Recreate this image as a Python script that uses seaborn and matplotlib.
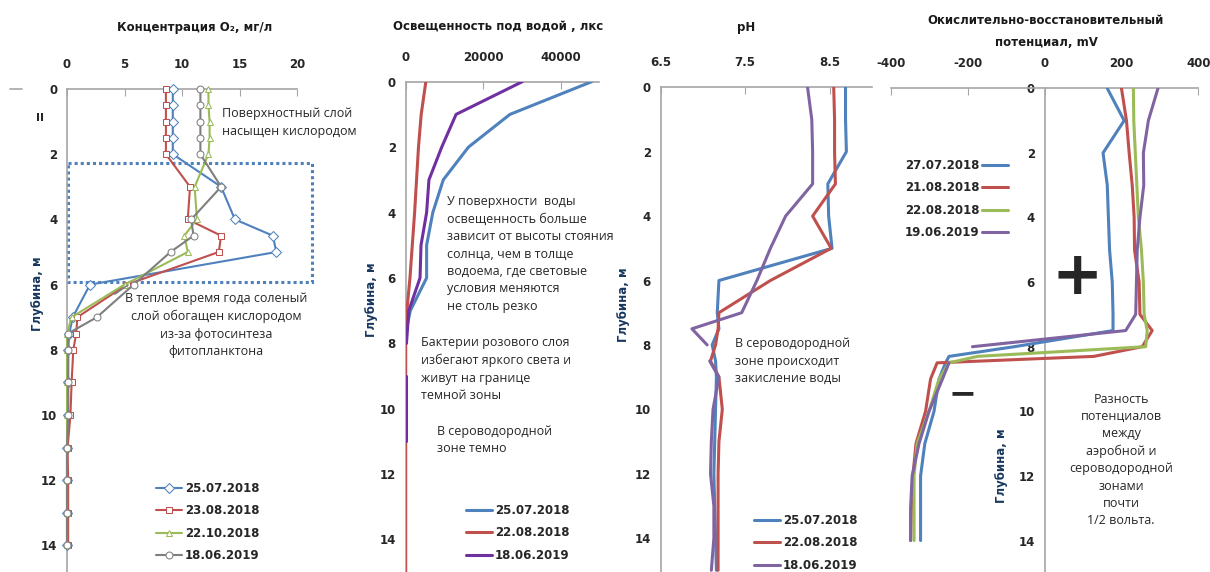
import numpy as np
import pandas as pd
import matplotlib
matplotlib.use('Agg')
import matplotlib.pyplot as plt
import matplotlib.patches as patches
from matplotlib.lines import Line2D
import seaborn as sns

# ---- Концентрация O2, мг/л ----
o2_depth = [0, 0.5, 1, 1.5, 2, 3, 4, 4.5, 5, 6, 7, 7.5, 8, 9, 10, 11, 12, 13, 14]
o2_250718 = [9.2, 9.2, 9.2, 9.2, 9.2, 13.4, 14.6, 17.9, 18.2, 2.0, 0.5, 0.2, 0.1, 0.1, 0.1, 0, 0, 0, 0]
o2_230818 = [8.6, 8.6, 8.6, 8.6, 8.6, 10.7, 10.5, 13.4, 13.2, 5.2, 0.9, 0.8, 0.55, 0.4, 0.3, 0.05, 0.1, 0.1, 0.1]
o2_221018 = [12.3, 12.3, 12.4, 12.4, 12.3, 11.1, 11.3, 10.2, 10.5, 5.0, 0.4, 0, 0, 0, 0, 0, 0, 0, 0]
o2_180619 = [11.6, 11.6, 11.6, 11.6, 11.6, 13.4, 10.8, 11.0, 9.0, 5.8, 2.6, 0.1, 0.1, 0.1, 0.1, 0, 0, 0, 0]

# ---- Освещенность, лкс ----
lux_depth = [0, 1, 2, 3, 4, 5, 6, 7, 7.5, 8]
lux_250718 = [48000, 26900, 16200, 9700, 7000, 5400, 5400, 1200, 300, 0]
lux_red_depth = [0, 1, 2, 3, 4, 5, 6, 7, 8, 9, 10, 11, 12, 13, 14, 15]
lux_220818 = [5200, 4000, 3300, 2800, 2300, 1700, 1100, 300, 0, 0, 0, 0, 0, 0, 0, 0]
lux_violet_depth = [0, 1, 2, 3, 4, 5, 6, 7, 8, 8.5, 9, 10, 11]
lux_180619 = [30100, 13000, 9300, 6000, 5400, 3950, 3700, 800, 200, np.nan, 200, 200, 200]

# ---- pH ----
ph_depth = [0, 1, 2, 3, 4, 5, 6, 7, 7.5, 8, 8.5, 9, 10, 11, 12, 13, 14, 15]
ph_250718 = [8.69, 8.69, 8.70, 8.48, 8.49, 8.53, 7.19, 7.17, 7.19, 7.11, 7.15, 7.16, 7.15, 7.14, 7.13, 7.14, 7.15, 7.16]
ph_220818 = [8.55, 8.56, 8.56, 8.57, 8.30, 8.52, 7.80, 7.19, 7.18, 7.15, 7.09, 7.19, 7.23, 7.19, 7.18, 7.18, 7.18, 7.18]
ph_violet_depth = [0, 1, 2, 3, 4, 5, 6, 7, 7.5, 8, 8.25, 8.5, 9, 10, 11, 12, 13, 14, 15]
ph_180619 = [8.24, 8.29, 8.30, 8.30, 7.98, 7.80, 7.64, 7.46, 6.87, 7.05, np.nan, 7.08, 7.19, 7.12, 7.10, 7.09, 7.13, 7.13, 7.10]

# ---- ОВП, mV ----
orp_depth = [0, 1, 2, 3, 4, 5, 6, 7, 7.5, 8, 8.3, 8.5, 9, 10, 11, 12, 13, 14]
orp_270718 = [163, 207, 152, 163, 166, 169, 176, 178, 178, -79, -249, -258, -275, -288, -312, -323, -323, -323]
orp_210818 = [200, 213, 220, 228, 233, 234, 246, 248, 280, 254, 128, -280, -297, -310, -335, -343, -347, -349]
orp_220818 = [231, 232, 236, 240, 244, 252, 257, 259, 267, 263, -175, -249, -275, -301, -332, -340, -340, -340]
orp_190619 = [295, 270, 257, 258, 248, 241, 239, 237, 211, -188, np.nan, -249, -266, -301, -327, -345, -349, -349]

BLUE, RED, GREEN, GRAY = '#4F81BD', '#C0504D', '#9BBB59', '#7F7F7F'
VIOLET_DARK, VIOLET = '#7030A0', '#8064A2'

sns.set_style('white')
plt.rcParams['font.family'] = ['DejaVu Sans']
plt.rcParams['axes.unicode_minus'] = False

W, H = 1210, 572
fig = plt.figure(figsize=(W / 100, H / 100), dpi=100)


def px(x, y):
    return x / W, 1 - y / H


def draw(ax, depth, vals, color, label, **kw):
    d = pd.DataFrame({'depth': depth, 'val': vals})
    seg = d['val'].isna().cumsum()
    first = True
    for _, part in d[d['val'].notna()].groupby(seg[d['val'].notna()]):
        sns.lineplot(data=part, x='val', y='depth', orient='y', sort=False,
                     estimator=None, color=color, legend=False, ax=ax,
                     label=label if first else '_nolegend_', **kw)
        first = False


def style_ax(ax, xlim, xticks, ymax, zero_spine=False):
    ax.set_xlim(*xlim)
    ax.set_ylim(ymax, 0)
    ax.set_xticks(xticks)
    ax.set_yticks(range(0, 15, 2))
    ax.set_xlabel('')
    ax.set_ylabel('')
    ax.xaxis.tick_top()
    for s in ['right', 'bottom']:
        ax.spines[s].set_visible(False)
    for s in ['top', 'left']:
        ax.spines[s].set_color('#A6A6A6')
        ax.spines[s].set_linewidth(1.2)
    if zero_spine:
        ax.spines['left'].set_position(('data', 0))
    ax.tick_params(axis='x', direction='in', length=5, pad=13, color='#A6A6A6',
                   labelsize=8.5)
    ax.tick_params(axis='y', direction='out', length=4, pad=3, color='#A6A6A6',
                   labelsize=8.5)
    for t in ax.get_xticklabels() + ax.get_yticklabels():
        t.set_fontweight('bold')
    ax.patch.set_alpha(0)


def ann(x, y, s, ha='left', ls=1.45, size=9):
    fig.text(*px(x, y), s, ha=ha, va='top', fontsize=size, linespacing=ls,
             color='#262626', family=['Open Sans', 'DejaVu Sans'])


def title(x, y, s):
    fig.text(*px(x, y), s, ha='center', va='center', fontsize=8.5,
             fontweight='bold', color='#1a1a1a')


def ylab(x, y):
    fig.text(*px(x, y), 'Глубина, м', rotation=90, ha='center', va='center',
             fontsize=8.5, fontweight='bold', color='#17375E')


leg_kw = dict(bbox_transform=fig.transFigure, frameon=False, borderpad=0,
              handlelength=2.2, handletextpad=0.25, labelspacing=0.8,
              prop={'weight': 'bold', 'size': 8.5})

# ---------- Панель 1: O2 ----------
ax1 = fig.add_axes([67 / W, 0, 230 / W, (H - 89) / H])
mk = dict(markerfacecolor='white', markersize=5, linewidth=1.5, clip_on=False, zorder=3)
draw(ax1, o2_depth, o2_250718, BLUE, '25.07.2018', marker='D', markeredgecolor=BLUE, **mk)
draw(ax1, o2_depth, o2_230818, RED, '23.08.2018', marker='s', markeredgecolor=RED, **mk)
draw(ax1, o2_depth, o2_221018, GREEN, '22.10.2018', marker='^', markeredgecolor=GREEN, **mk)
draw(ax1, o2_depth, o2_180619, GRAY, '18.06.2019', marker='o', markeredgecolor=GRAY, **mk)
style_ax(ax1, (0, 20), [0, 5, 10, 15, 20], (H - 89) / 32.6)
ax1.add_patch(patches.Rectangle((0.1, 2.27), 21.2, 3.65, fill=False, edgecolor=BLUE,
                                linewidth=2.2, linestyle=(0, (1, 1)), clip_on=False))
ax1.legend(loc='upper left', bbox_to_anchor=px(150, 476), **leg_kw)
title(195, 27, 'Концентрация O₂, мг/л')
ylab(37, 294)
ann(222, 107, 'Поверхностный слой\nнасыщен кислородом', ls=1.5)
ann(216, 292, 'В теплое время года соленый\nслой обогащен кислородом\nиз-за фотосинтеза\nфитопланктона',
    ha='center', ls=1.45)
fig.add_artist(Line2D([115 / W, 128 / W], [1 - 294 / H, 1 - 285 / H], color=GRAY, lw=1.2))
fig.add_artist(Line2D([10 / W, 22 / W], [1 - 89 / H, 1 - 89 / H], color='#A6A6A6', lw=1.2))
fig.text(*px(40, 118), 'II', ha='center', va='center', fontsize=8, fontweight='bold')

# ---------- Панель 2: освещенность ----------
ax2 = fig.add_axes([405.7 / W, 0, 193.7 / W, (H - 81.7) / H])
lk = dict(linewidth=2.2, zorder=3)
draw(ax2, lux_depth, lux_250718, BLUE, '25.07.2018', **lk)
draw(ax2, lux_red_depth, lux_220818, RED, '22.08.2018', **lk)
draw(ax2, lux_violet_depth, lux_180619, VIOLET_DARK, '18.06.2019', **lk)
style_ax(ax2, (0, 50000), [0, 20000, 40000], (H - 81.7) / 32.7)
ax2.legend(loc='upper left', bbox_to_anchor=px(460, 498), **leg_kw)
title(498, 27, 'Освещенность под водой , лкс')
ylab(371, 300)
ann(447, 195, 'У поверхности  воды\nосвещенность больше\nзависит от высоты стояния\nсолнца, чем в толще\n'
    'водоема, где световые\nусловия меняются\nне столь резко')
ann(421, 336, 'Бактерии розового слоя\nизбегают яркого света и\nживут на границе\nтемной зоны')
ann(437, 425, 'В сероводородной\nзоне темно')

# ---------- Панель 3: pH ----------
ax3 = fig.add_axes([660.7 / W, 0, 211 / W, (H - 87.3) / H])
draw(ax3, ph_depth, ph_250718, BLUE, '25.07.2018', **lk)
draw(ax3, ph_depth, ph_220818, RED, '22.08.2018', **lk)
draw(ax3, ph_violet_depth, ph_180619, VIOLET, '18.06.2019', **lk)
style_ax(ax3, (6.5, 9.0), [6.5, 7.5, 8.5], (H - 87.3) / 32.2)
ax3.legend(loc='upper left', bbox_to_anchor=px(748, 508), **leg_kw)
title(746, 27, 'pH')
ylab(623, 305)
ann(735, 337, 'В сероводородной\nзоне происходит\nзакисление воды')

# ---------- Панель 4: ОВП ----------
ax4 = fig.add_axes([891 / W, 0, 307.3 / W, (H - 88.3) / H])
draw(ax4, orp_depth, orp_270718, BLUE, '27.07.2018', **lk)
draw(ax4, orp_depth, orp_210818, RED, '21.08.2018', **lk)
draw(ax4, orp_depth, orp_220818, GREEN, '22.08.2018', **lk)
draw(ax4, orp_depth, orp_190619, VIOLET, '19.06.2019', **lk)
style_ax(ax4, (-400, 400), [-400, -200, 0, 200, 400], (H - 88.3) / 32.3, zero_spine=True)
ax4.legend(loc='upper right', bbox_to_anchor=px(1014, 153), markerfirst=False, **leg_kw)
title(1046, 21, 'Окислительно-восстановительный')
title(1046, 43, 'потенциал, mV')
ylab(1002, 466)
fig.text(*px(1077, 277), '+', ha='center', va='center', fontsize=44, fontweight='bold')
fig.text(*px(963, 394), '−', ha='center', va='center', fontsize=24, fontweight='bold')
ann(1121, 393, 'Разность\nпотенциалов\nмежду\nаэробной и\nсероводородной\nзонами\nпочти\n1/2 вольта.',
    ha='center', ls=1.42)

fig.savefig('out.png', dpi=100)
